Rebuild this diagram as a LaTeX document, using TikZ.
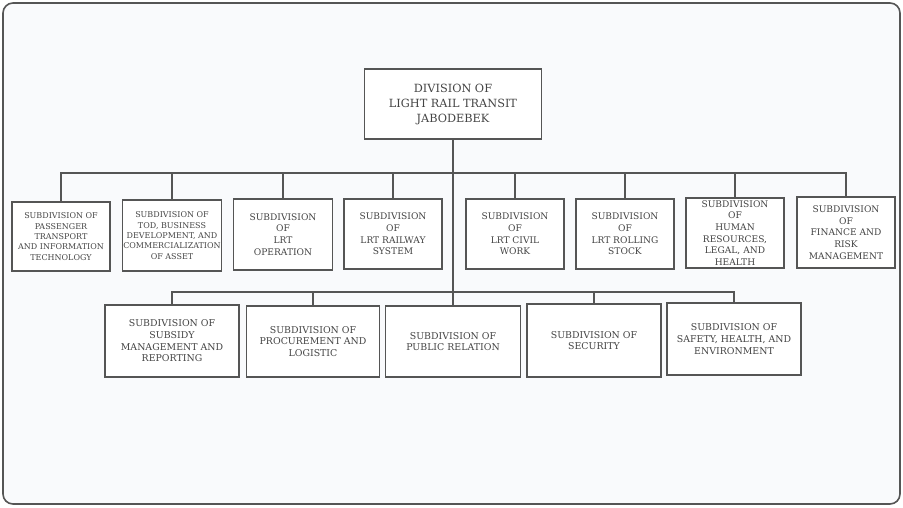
\documentclass[tikz,border=0pt]{standalone}
\usepackage{fontspec}
\setmainfont{DejaVu Serif}
\definecolor{ln}{HTML}{555555}
\definecolor{tx}{HTML}{444444}
\definecolor{bg}{HTML}{F9FAFC}
\tikzset{
  unit/.style={draw=ln, line width=1.1pt, fill=white, text=tx, align=center, inner sep=1pt},
  sm/.style={unit, font=\fontsize{8.0}{10.3}\selectfont},
  md/.style={unit, font=\fontsize{9.1}{11.7}\selectfont},
  lg/.style={unit, font=\fontsize{9.4}{11.7}\selectfont},
  link/.style={draw=ln, line width=1.1pt}
}
\begin{document}
\begin{tikzpicture}[x=1pt,y=-1pt]
\useasboundingbox (0,0) rectangle (903,507);
\draw[draw=ln, line width=1.6pt, fill=bg, rounded corners=10pt] (3,3) rectangle (900,504);
% top
\node[unit, font=\fontsize{11.3}{15}\selectfont, minimum width=177pt, minimum height=70pt] (top) at (453,104) {DIVISION OF\\LIGHT RAIL TRANSIT\\JABODEBEK};
% row 1
\node[sm, minimum width=98pt, minimum height=69pt] (b1) at (61,236.5) {SUBDIVISION OF\\PASSENGER\\TRANSPORT\\AND INFORMATION\\TECHNOLOGY};
\node[sm, minimum width=98pt, minimum height=71pt] (b2) at (172,235.5) {SUBDIVISION OF\\TOD, BUSINESS\\DEVELOPMENT, AND\\COMMERCIALIZATION\\OF ASSET};
\node[md, minimum width=99pt, minimum height=71pt] (b3) at (283,234.5) {SUBDIVISION\\OF\\LRT\\OPERATION};
\node[md, minimum width=98pt, minimum height=70pt] (b4) at (393,234) {SUBDIVISION\\OF\\LRT RAILWAY\\SYSTEM};
\node[md, minimum width=98pt, minimum height=70pt] (b5) at (515,234) {SUBDIVISION\\OF\\LRT CIVIL\\WORK};
\node[md, minimum width=98pt, minimum height=70pt] (b6) at (625,234) {SUBDIVISION\\OF\\LRT ROLLING\\STOCK};
\node[md, minimum width=98pt, minimum height=70pt] (b7) at (735,233) {SUBDIVISION\\OF\\HUMAN\\RESOURCES,\\LEGAL, AND\\HEALTH};
\node[md, minimum width=98pt, minimum height=71pt] (b8) at (846,232.5) {SUBDIVISION\\OF\\FINANCE AND\\RISK\\MANAGEMENT};
% row 2
\node[lg, minimum width=134pt, minimum height=72pt] (b9) at (172,341) {SUBDIVISION OF\\SUBSIDY\\MANAGEMENT AND\\REPORTING};
\node[lg, minimum width=133pt, minimum height=71pt] (b10) at (313,341.5) {SUBDIVISION OF\\PROCUREMENT AND\\LOGISTIC};
\node[lg, minimum width=135pt, minimum height=71pt] (b11) at (453,341.5) {SUBDIVISION OF\\PUBLIC RELATION};
\node[lg, minimum width=134pt, minimum height=73pt] (b12) at (594,340.5) {SUBDIVISION OF\\SECURITY};
\node[lg, minimum width=134pt, minimum height=72pt] (b13) at (734,339) {SUBDIVISION OF\\SAFETY, HEALTH, AND\\ENVIRONMENT};
% connectors
\coordinate (bar1) at (0,173);
\coordinate (bar2) at (0,292);
\draw[link] (top.south) -- (b11.north);
\draw[link] (b1.north) -- (b1.north |- bar1) -- (b8.north |- bar1) -- (b8.north);
\foreach \n in {b2,b3,b4,b5,b6,b7} \draw[link] (\n.north) -- (\n.north |- bar1);
\draw[link] (b9.north) -- (b9.north |- bar2) -- (b13.north |- bar2) -- (b13.north);
\foreach \n in {b10,b12} \draw[link] (\n.north) -- (\n.north |- bar2);
\end{tikzpicture}
\end{document}
